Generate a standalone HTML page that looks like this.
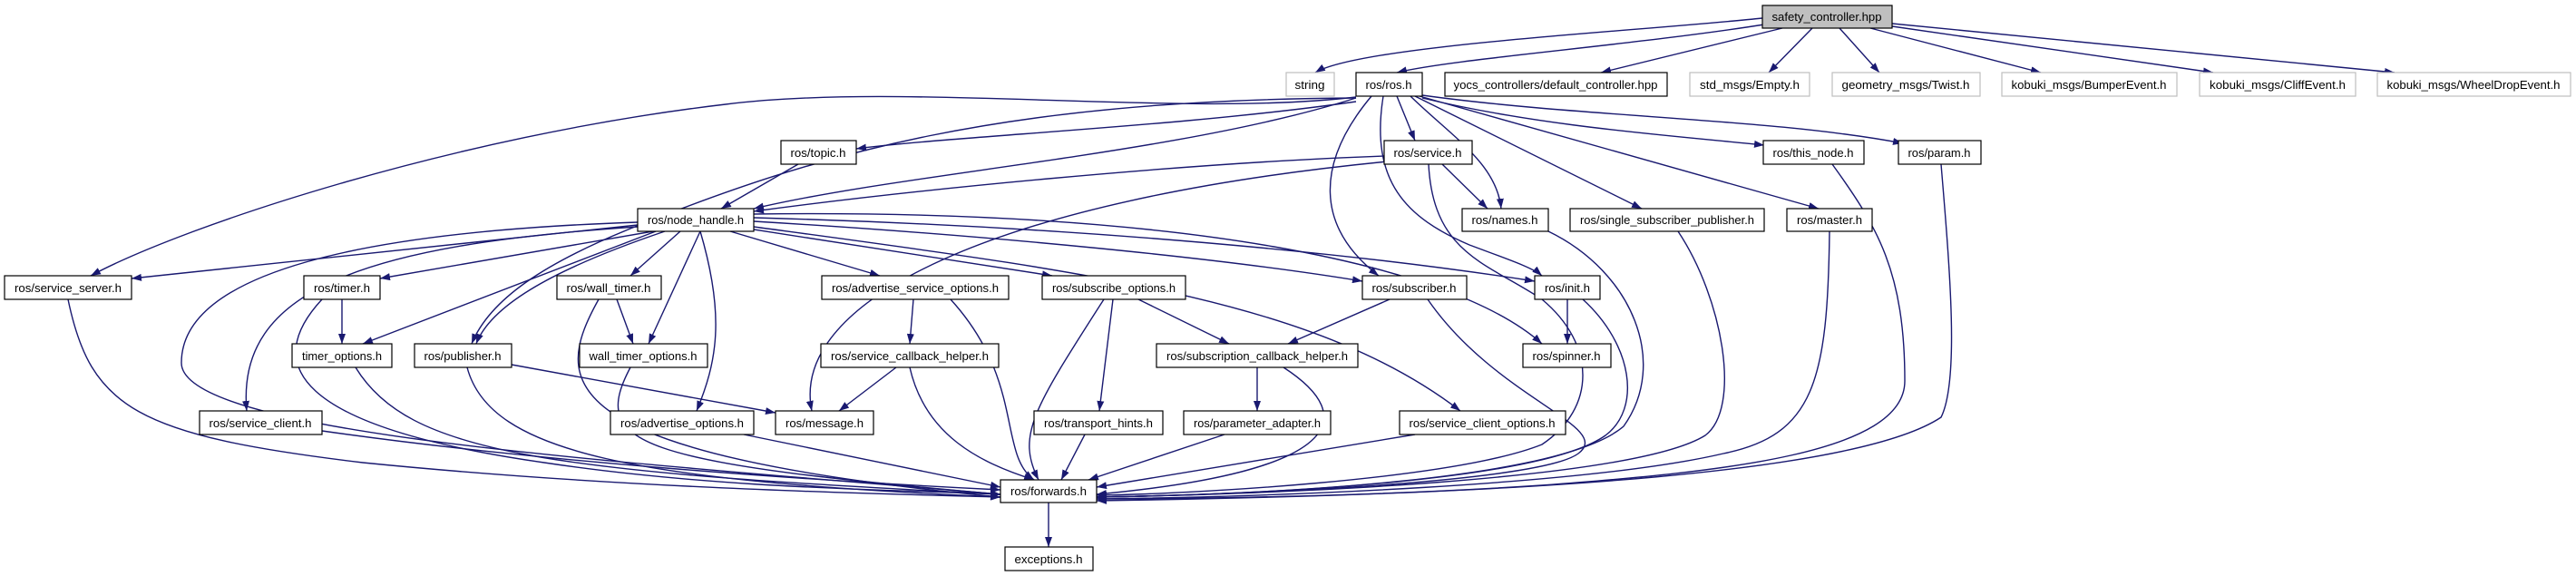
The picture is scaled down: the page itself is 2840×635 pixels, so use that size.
<!DOCTYPE html>
<html><head><meta charset="utf-8"><style>
html,body{margin:0;padding:0;background:#fff;}
svg{display:block;}
text{font-family:"Liberation Sans",sans-serif;font-size:13px;fill:#000;}
</style></head><body>
<svg width="2840" height="635" viewBox="0 0 2840 635" xmlns="http://www.w3.org/2000/svg">
<defs>
<marker id="a" markerWidth="11" markerHeight="8" refX="11" refY="4" orient="auto" markerUnits="userSpaceOnUse">
<path d="M0,0 L11,4 L0,8 z" fill="#191970"/></marker>
</defs>
<g fill="none" stroke="#191970" stroke-width="1.4" marker-end="url(#a)">
<path d="M1943,20 C1800,35 1500,50 1450,80"/>
<path d="M1945,27 C1800,50 1600,65 1540,80"/>
<path d="M1965,31 L1765,80"/>
<path d="M1998,31 L1950,80"/>
<path d="M2028,31 L2072,80"/>
<path d="M2062,31 L2250,80"/>
<path d="M2086,29 L2440,80"/>
<path d="M2086,26 L2640,80"/>
<path d="M1495,112 C1300,140 1050,150 944,164"/>
<path d="M1495,108 C1300,170 1000,190 831,230"/>
<path d="M1495,107 C1300,130 1000,90 800,115 C500,150 200,250 100,304"/>
<path d="M1495,108 C1100,110 900,170 700,250 C600,290 540,330 520,379"/>
<path d="M1540,106 L1560,155"/>
<path d="M1555,106 C1600,150 1650,180 1655,230"/>
<path d="M1560,106 L1810,230"/>
<path d="M1565,106 L2005,230"/>
<path d="M1568,108 C1700,140 1850,150 1945,160"/>
<path d="M1568,105 C1750,130 1950,130 2098,158"/>
<path d="M1512,106 C1450,180 1450,250 1520,304"/>
<path d="M1525,106 C1510,200 1550,240 1620,270 C1660,285 1690,295 1700,304"/>
<path d="M880,181 L795,230"/>
<path d="M1526,172 C1300,180 1000,210 831,233"/>
<path d="M1590,181 L1640,230"/>
<path d="M1530,178 C1100,220 870,330 895,453"/>
<path d="M1575,181 C1580,280 1640,290 1700,330 C1760,380 1760,450 1700,490 C1600,530 1300,545 1209,546"/>
<path d="M703,248 L145,307"/>
<path d="M720,255 L419,307"/>
<path d="M750,255 L695,304"/>
<path d="M805,255 L970,304"/>
<path d="M831,253 L1160,304"/>
<path d="M831,244 C1100,260 1350,285 1502,310"/>
<path d="M831,240 C1200,250 1500,280 1692,310"/>
<path d="M831,236 C1300,230 1600,290 1700,379"/>
<path d="M831,250 C1200,300 1450,330 1610,453"/>
<path d="M723,255 L400,379"/>
<path d="M733,255 C600,300 540,340 525,379"/>
<path d="M772,255 L715,379"/>
<path d="M703,250 C400,270 260,320 272,453"/>
<path d="M772,255 C800,350 790,400 768,453"/>
<path d="M703,245 C400,255 200,300 200,400 C200,480 700,510 1103,545"/>
<path d="M377,330 L377,379"/>
<path d="M355,330 C290,400 320,470 600,510 C800,540 1000,540 1103,545"/>
<path d="M75,330 C100,450 150,480 400,510 C700,540 1000,545 1103,548"/>
<path d="M660,330 C610,420 600,500 1103,548"/>
<path d="M680,330 L698,379"/>
<path d="M392,405 C450,500 600,520 1103,545"/>
<path d="M564,402 L855,455"/>
<path d="M515,405 C540,500 700,530 1103,548"/>
<path d="M695,405 C650,490 700,510 1103,545"/>
<path d="M1007,330 L1003,379"/>
<path d="M1048,330 C1130,420 1100,500 1140,529"/>
<path d="M988,405 L925,453"/>
<path d="M1003,405 C1020,480 1080,510 1140,529"/>
<path d="M1255,330 L1355,379"/>
<path d="M1227,330 L1212,453"/>
<path d="M1217,330 C1140,450 1120,480 1145,529"/>
<path d="M1532,330 L1420,379"/>
<path d="M1574,330 C1650,440 1780,470 1740,500 C1700,530 1400,545 1209,548"/>
<path d="M1728,330 L1728,379"/>
<path d="M1745,330 C1800,380 1810,450 1770,480 C1700,530 1400,545 1209,548"/>
<path d="M1386,405 L1386,453"/>
<path d="M1415,405 C1500,460 1480,520 1209,545"/>
<path d="M1196,479 L1170,529"/>
<path d="M1350,479 L1200,529"/>
<path d="M1560,479 L1209,537"/>
<path d="M820,479 L1103,537"/>
<path d="M355,475 C600,510 900,530 1103,540"/>
<path d="M1707,255 C1800,300 1840,400 1790,470 C1720,530 1400,545 1209,548"/>
<path d="M1850,255 C1900,330 1920,450 1880,480 C1800,530 1400,545 1209,548"/>
<path d="M2017,255 C2015,420 2000,480 1900,500 C1750,535 1400,548 1209,550"/>
<path d="M2020,181 C2070,250 2100,300 2100,420 C2100,500 1900,520 1700,535 C1500,548 1300,550 1209,550"/>
<path d="M2140,181 C2150,300 2160,420 2140,460 C2050,520 1700,545 1209,552"/>
<path d="M1156,554 L1156,603"/>
</g>
<g stroke-width="1.2">
<rect x="1943" y="6" width="143" height="25" fill="#bfbfbf" stroke="#000"/>
<rect x="1418" y="80" width="53" height="26" fill="#fff" stroke="#bfbfbf"/>
<rect x="1495" y="80" width="73" height="26" fill="#fff" stroke="#000"/>
<rect x="1593" y="80" width="245" height="26" fill="#fff" stroke="#000"/>
<rect x="1863" y="80" width="132" height="26" fill="#fff" stroke="#bfbfbf"/>
<rect x="2020" y="80" width="163" height="26" fill="#fff" stroke="#bfbfbf"/>
<rect x="2207" y="80" width="193" height="26" fill="#fff" stroke="#bfbfbf"/>
<rect x="2425" y="80" width="172" height="26" fill="#fff" stroke="#bfbfbf"/>
<rect x="2621" y="80" width="213" height="26" fill="#fff" stroke="#bfbfbf"/>
<rect x="861" y="155" width="83" height="26" fill="#fff" stroke="#000"/>
<rect x="1526" y="155" width="97" height="26" fill="#fff" stroke="#000"/>
<rect x="1944" y="155" width="111" height="26" fill="#fff" stroke="#000"/>
<rect x="2093" y="155" width="91" height="26" fill="#fff" stroke="#000"/>
<rect x="703" y="230" width="128" height="25" fill="#fff" stroke="#000"/>
<rect x="1612" y="230" width="95" height="25" fill="#fff" stroke="#000"/>
<rect x="1731" y="230" width="214" height="25" fill="#fff" stroke="#000"/>
<rect x="1970" y="230" width="94" height="25" fill="#fff" stroke="#000"/>
<rect x="5" y="304" width="140" height="26" fill="#fff" stroke="#000"/>
<rect x="335" y="304" width="84" height="26" fill="#fff" stroke="#000"/>
<rect x="614" y="304" width="115" height="26" fill="#fff" stroke="#000"/>
<rect x="906" y="304" width="206" height="26" fill="#fff" stroke="#000"/>
<rect x="1149" y="304" width="158" height="26" fill="#fff" stroke="#000"/>
<rect x="1502" y="304" width="115" height="26" fill="#fff" stroke="#000"/>
<rect x="1692" y="304" width="72" height="26" fill="#fff" stroke="#000"/>
<rect x="322" y="379" width="110" height="26" fill="#fff" stroke="#000"/>
<rect x="457" y="379" width="107" height="26" fill="#fff" stroke="#000"/>
<rect x="639" y="379" width="141" height="26" fill="#fff" stroke="#000"/>
<rect x="905" y="379" width="196" height="26" fill="#fff" stroke="#000"/>
<rect x="1275" y="379" width="222" height="26" fill="#fff" stroke="#000"/>
<rect x="1679" y="379" width="97" height="26" fill="#fff" stroke="#000"/>
<rect x="220" y="453" width="135" height="26" fill="#fff" stroke="#000"/>
<rect x="673" y="453" width="158" height="26" fill="#fff" stroke="#000"/>
<rect x="855" y="453" width="108" height="26" fill="#fff" stroke="#000"/>
<rect x="1140" y="453" width="142" height="26" fill="#fff" stroke="#000"/>
<rect x="1305" y="453" width="162" height="26" fill="#fff" stroke="#000"/>
<rect x="1543" y="453" width="183" height="26" fill="#fff" stroke="#000"/>
<rect x="1103" y="529" width="106" height="25" fill="#fff" stroke="#000"/>
<rect x="1108" y="603" width="97" height="26" fill="#fff" stroke="#000"/>
</g>
<g text-anchor="middle" lengthAdjust="spacingAndGlyphs">
<text x="2014" y="23" textLength="121" lengthAdjust="spacingAndGlyphs">safety_controller.hpp</text>
<text x="1444" y="98" textLength="33" lengthAdjust="spacingAndGlyphs">string</text>
<text x="1531" y="98" textLength="51" lengthAdjust="spacingAndGlyphs">ros/ros.h</text>
<text x="1715" y="98" textLength="225" lengthAdjust="spacingAndGlyphs">yocs_controllers/default_controller.hpp</text>
<text x="1929" y="98" textLength="110" lengthAdjust="spacingAndGlyphs">std_msgs/Empty.h</text>
<text x="2101" y="98" textLength="141" lengthAdjust="spacingAndGlyphs">geometry_msgs/Twist.h</text>
<text x="2303" y="98" textLength="171" lengthAdjust="spacingAndGlyphs">kobuki_msgs/BumperEvent.h</text>
<text x="2511" y="98" textLength="150" lengthAdjust="spacingAndGlyphs">kobuki_msgs/CliffEvent.h</text>
<text x="2727" y="98" textLength="191" lengthAdjust="spacingAndGlyphs">kobuki_msgs/WheelDropEvent.h</text>
<text x="902" y="173" textLength="61" lengthAdjust="spacingAndGlyphs">ros/topic.h</text>
<text x="1574" y="173" textLength="75" lengthAdjust="spacingAndGlyphs">ros/service.h</text>
<text x="1999" y="173" textLength="89" lengthAdjust="spacingAndGlyphs">ros/this_node.h</text>
<text x="2138" y="173" textLength="69" lengthAdjust="spacingAndGlyphs">ros/param.h</text>
<text x="767" y="247" textLength="106" lengthAdjust="spacingAndGlyphs">ros/node_handle.h</text>
<text x="1659" y="247" textLength="73" lengthAdjust="spacingAndGlyphs">ros/names.h</text>
<text x="1838" y="247" textLength="192" lengthAdjust="spacingAndGlyphs">ros/single_subscriber_publisher.h</text>
<text x="2017" y="247" textLength="72" lengthAdjust="spacingAndGlyphs">ros/master.h</text>
<text x="75" y="322" textLength="118" lengthAdjust="spacingAndGlyphs">ros/service_server.h</text>
<text x="377" y="322" textLength="62" lengthAdjust="spacingAndGlyphs">ros/timer.h</text>
<text x="671" y="322" textLength="93" lengthAdjust="spacingAndGlyphs">ros/wall_timer.h</text>
<text x="1009" y="322" textLength="184" lengthAdjust="spacingAndGlyphs">ros/advertise_service_options.h</text>
<text x="1228" y="322" textLength="136" lengthAdjust="spacingAndGlyphs">ros/subscribe_options.h</text>
<text x="1559" y="322" textLength="93" lengthAdjust="spacingAndGlyphs">ros/subscriber.h</text>
<text x="1728" y="322" textLength="50" lengthAdjust="spacingAndGlyphs">ros/init.h</text>
<text x="377" y="397" textLength="88" lengthAdjust="spacingAndGlyphs">timer_options.h</text>
<text x="510" y="397" textLength="85" lengthAdjust="spacingAndGlyphs">ros/publisher.h</text>
<text x="709" y="397" textLength="119" lengthAdjust="spacingAndGlyphs">wall_timer_options.h</text>
<text x="1003" y="397" textLength="174" lengthAdjust="spacingAndGlyphs">ros/service_callback_helper.h</text>
<text x="1386" y="397" textLength="200" lengthAdjust="spacingAndGlyphs">ros/subscription_callback_helper.h</text>
<text x="1727" y="397" textLength="75" lengthAdjust="spacingAndGlyphs">ros/spinner.h</text>
<text x="287" y="471" textLength="113" lengthAdjust="spacingAndGlyphs">ros/service_client.h</text>
<text x="752" y="471" textLength="136" lengthAdjust="spacingAndGlyphs">ros/advertise_options.h</text>
<text x="909" y="471" textLength="86" lengthAdjust="spacingAndGlyphs">ros/message.h</text>
<text x="1211" y="471" textLength="120" lengthAdjust="spacingAndGlyphs">ros/transport_hints.h</text>
<text x="1386" y="471" textLength="140" lengthAdjust="spacingAndGlyphs">ros/parameter_adapter.h</text>
<text x="1634" y="471" textLength="161" lengthAdjust="spacingAndGlyphs">ros/service_client_options.h</text>
<text x="1156" y="546" textLength="84" lengthAdjust="spacingAndGlyphs">ros/forwards.h</text>
<text x="1156" y="621" textLength="75" lengthAdjust="spacingAndGlyphs">exceptions.h</text>
</g>
</svg>
</body></html>
